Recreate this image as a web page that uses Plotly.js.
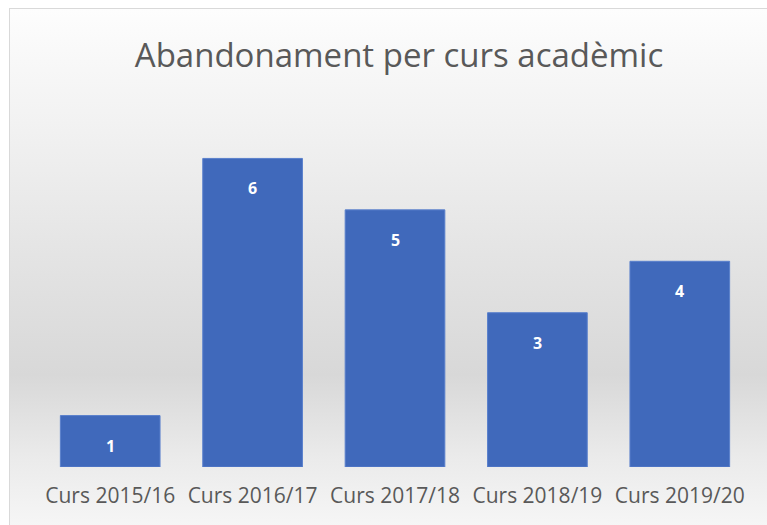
<!DOCTYPE html>
<html>
<head>
<meta charset="utf-8">
<script src="https://cdn.plot.ly/plotly-3.0.1.min.js"></script>
<style>
  html, body { margin: 0; padding: 0; background: #ffffff; width: 767px; height: 525px; overflow: hidden; }
  #frame {
    position: absolute; left: 9px; top: 8px; width: 770px; height: 530px;
    border: 1px solid #d9d9d9;
    background: linear-gradient(to bottom, #fdfdfd 0%, #f0f0f0 25%, #e2e2e2 50%, #d8d8d8 69%, #ebebeb 85%, #f8f8f8 100%);
  }
  #chart { position: absolute; left: 0; top: 0; width: 767px; height: 525px; }
</style>
</head>
<body>
<div id="frame"></div>
<div id="chart"></div>
<script>
const categories = ["Curs 2015/16", "Curs 2016/17", "Curs 2017/18", "Curs 2018/19", "Curs 2019/20"];
const values = [1, 6, 5, 3, 4];
const chartTitle = "Abandonament per curs acadèmic";

const trace = {
  type: "bar",
  x: categories,
  y: values,
  marker: { color: "#4069bb", line: { color: "#5a80cc", width: 1 } },
  hoverinfo: "x+y"
};

const annotations = categories.map((c, i) => ({
  x: c, y: values[i], xref: "x", yref: "y",
  text: "<b>" + values[i] + "</b>",
  showarrow: false, yanchor: "middle", yshift: -30,
  font: { family: "Open Sans, sans-serif", size: 16, color: "#ffffff" }
}));

const layout = {
  width: 767, height: 525,
  paper_bgcolor: "rgba(0,0,0,0)",
  plot_bgcolor: "rgba(0,0,0,0)",
  margin: { l: 39, r: 16, t: 107, b: 58 },
  title: {
    text: chartTitle,
    x: 399 / 767, xanchor: "center", xref: "container",
    y: 1 - 55 / 525, yanchor: "middle", yref: "container",
    font: { family: "Open Sans, sans-serif", size: 33, color: "#595959" }
  },
  bargap: 0.3,
  showlegend: false,
  xaxis: {
    type: "category",
    showgrid: false, zeroline: false, showline: false,
    ticks: "outside", ticklen: 10, tickcolor: "rgba(0,0,0,0)",
    tickfont: { family: "Open Sans, sans-serif", size: 21, color: "#595959" }
  },
  yaxis: {
    range: [0, 7],
    visible: false,
    showgrid: false, zeroline: false
  },
  annotations: annotations
};

Plotly.newPlot("chart", [trace], layout, { displayModeBar: false, staticPlot: true });
</script>
</body>
</html>
